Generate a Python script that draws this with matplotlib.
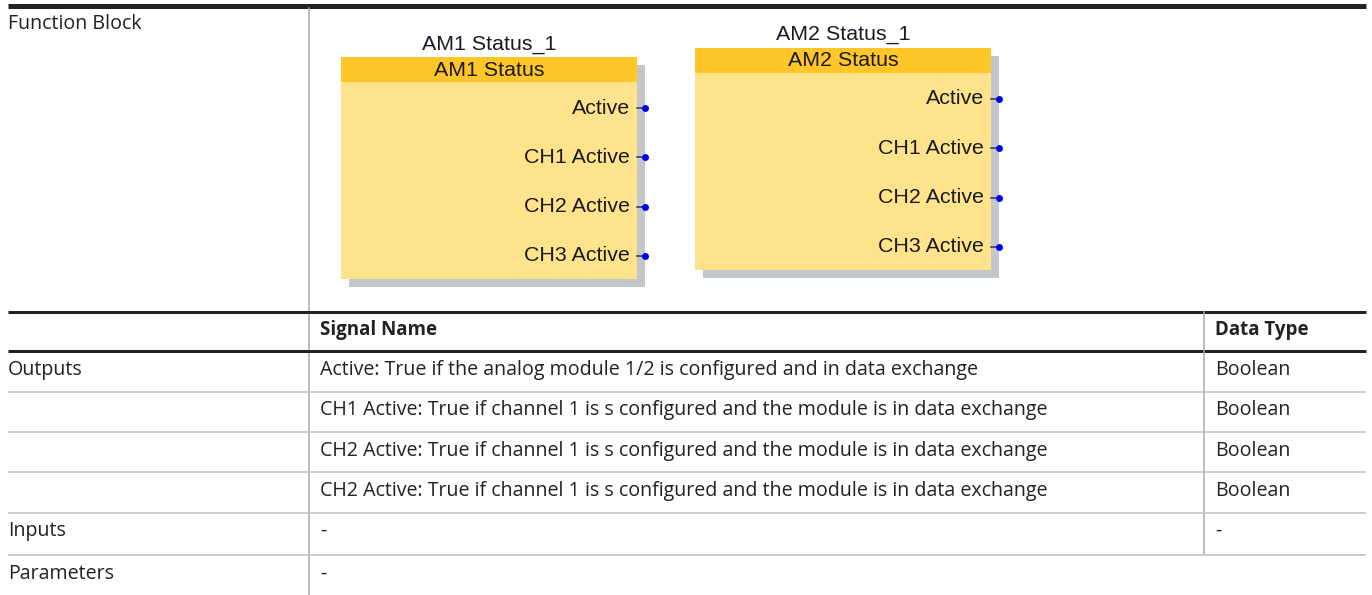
import matplotlib.pyplot as plt
from matplotlib.patches import Rectangle

# Function block data
block_titles = ['AM1 Status_1', 'AM2 Status_1']
block_names = ['AM1 Status', 'AM2 Status']
block_ports = ['Active', 'CH1 Active', 'CH2 Active', 'CH3 Active']

# Table data
table_header = ['', 'Signal Name', 'Data Type']
row_labels = ['Outputs', '', '', '', 'Inputs', 'Parameters']
signal_names = [
    'Active: True if the analog module 1/2 is configured and in data exchange',
    'CH1 Active: True if channel 1 is s configured and the module is in data exchange',
    'CH2 Active: True if channel 1 is s configured and the module is in data exchange',
    'CH2 Active: True if channel 1 is s configured and the module is in data exchange',
    '-',
    '-',
]
data_types = ['Boolean', 'Boolean', 'Boolean', 'Boolean', '-', '']

table_font = 'Open Sans'
block_font = 'Liberation Sans'
tfs = 14.1
PX = 0.72  # points per pixel at dpi 100

fig = plt.figure(figsize=(13.72, 5.95), dpi=100)
ax = fig.add_axes([0, 0, 1, 1])
ax.set_xlim(0, 1372)
ax.set_ylim(595, 0)
ax.axis('off')

# table frame
ax.plot([8, 1366], [6, 6], color='#222222', lw=5 * PX, solid_capstyle='butt')
ax.plot([309, 309], [8, 595], color='#a8a8a8', lw=1.5 * PX)
ax.text(8, 24, 'Function Block', family=table_font, fontsize=tfs, color='#222222', va='center')

# function blocks
block_x = [341, 695]
block_top = [57, 48]
bw, bh, hh = 296, 222, 25
for i in range(2):
    x0, y0 = block_x[i], block_top[i]
    ax.add_patch(Rectangle((x0 + 8, y0 + 8), bw, bh, color='#c3c7cc', lw=0))
    ax.add_patch(Rectangle((x0, y0), bw, bh, color='#ffe38c', lw=0))
    ax.add_patch(Rectangle((x0, y0), bw, hh, color='#ffc629', lw=0))
    ax.text(x0 + bw / 2, y0 - 13, block_titles[i], family=block_font, fontsize=15.4,
            color='#1a1a2a', ha='center', va='center')
    ax.text(x0 + bw / 2, y0 + 13, block_names[i], family=block_font, fontsize=15.4,
            color='#1a1a1a', ha='center', va='center')
    for j, port in enumerate(block_ports):
        py = y0 + 51 + j * 49.3
        ax.text(x0 + bw - 7, py, port, family=block_font, fontsize=15.4,
                color='#1a1a1a', ha='right', va='center')
        ax.plot([x0 + bw, x0 + bw + 7], [py, py], color='#333333', lw=1.5 * PX)
        ax.plot(x0 + bw + 8, py, 'o', color='#0000ee', ms=5, mec='none')

# table body
ax.plot([8, 1366], [312, 312], color='#222222', lw=3 * PX, solid_capstyle='butt')
ax.plot([8, 1366], [351, 351], color='#222222', lw=3 * PX, solid_capstyle='butt')
ax.plot([1204, 1204], [312, 555], color='#a8a8a8', lw=1.5 * PX)
ax.text(320, 330, table_header[1], family=table_font, fontsize=13.5, weight='bold',
        color='#222222', va='center')
ax.text(1215, 330, table_header[2], family=table_font, fontsize=13.5, weight='bold',
        color='#222222', va='center')

row_y = [370, 410, 451, 491, 531, 574]
line_y = [392, 432, 472, 513, 555]
for ly in line_y:
    ax.plot([8, 1366], [ly, ly], color='#c8c8c8', lw=1.8 * PX, solid_capstyle='butt')
for k in range(len(row_y)):
    ax.text(8, row_y[k], row_labels[k], family=table_font, fontsize=tfs, color='#222222', va='center')
    ax.text(320, row_y[k], signal_names[k], family=table_font, fontsize=tfs, color='#222222', va='center')
    ax.text(1215, row_y[k], data_types[k], family=table_font, fontsize=tfs, color='#222222', va='center')

fig.savefig('out.png', dpi=100)
